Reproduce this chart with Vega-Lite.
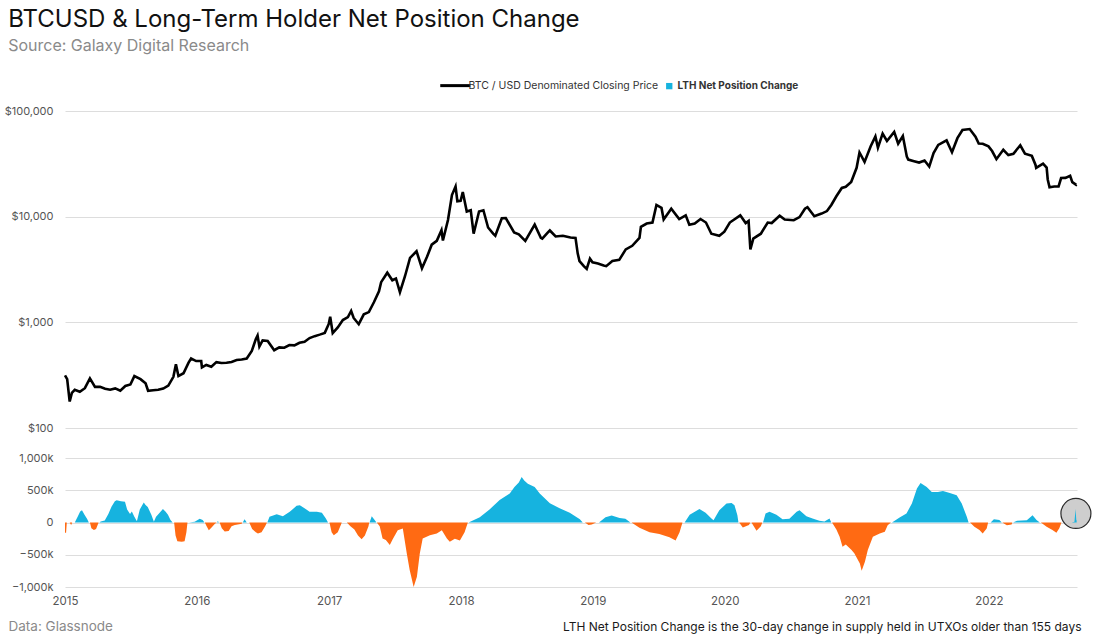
{
"$schema": "https://vega.github.io/schema/vega-lite/v6.json",
"padding": {"left": 4, "top": 8, "right": 10, "bottom": 5},
"background": "white",
"title": {"text": "BTCUSD & Long-Term Holder Net Position Change", "subtitle": "Source: Galaxy Digital Research", "anchor": "start", "frame": "bounds", "fontSize": 24, "fontWeight": "normal", "font": "Inter", "color": "#111111", "subtitleFontSize": 16, "subtitleColor": "#8a8a8a", "subtitleFont": "Inter", "subtitlePadding": 6, "offset": 26, "dx": 4},
"config": {"view": {"stroke": null}, "font": "Inter", "axis": {"labelFont": "Inter", "labelFontSize": 11, "labelColor": "#555555", "gridColor": "#dddddd", "ticks": false, "domain": false}},
"spacing": 19,
"resolve": {"scale": {"color": "independent"}, "legend": {"color": "independent"}},
"datasets": {
"price": [
{"date":"2015-01-01","price":315},{"date":"2015-01-07","price":290},{"date":"2015-01-14","price":178},{"date":"2015-01-20","price":215},{"date":"2015-01-28","price":230},{"date":"2015-02-11","price":220},{"date":"2015-02-25","price":238},{"date":"2015-03-11","price":295},{"date":"2015-03-25","price":245},{"date":"2015-04-08","price":245},{"date":"2015-04-22","price":235},{"date":"2015-05-06","price":230},{"date":"2015-05-20","price":237},{"date":"2015-06-03","price":225},{"date":"2015-06-17","price":250},{"date":"2015-07-01","price":258},{"date":"2015-07-12","price":310},{"date":"2015-07-29","price":290},{"date":"2015-08-12","price":265},{"date":"2015-08-19","price":225},{"date":"2015-09-02","price":228},{"date":"2015-09-16","price":230},{"date":"2015-09-30","price":236},{"date":"2015-10-14","price":252},{"date":"2015-10-28","price":305},{"date":"2015-11-04","price":400},{"date":"2015-11-11","price":310},{"date":"2015-11-25","price":330},{"date":"2015-12-09","price":415},{"date":"2015-12-16","price":455},{"date":"2015-12-30","price":430},
{"date":"2016-01-13","price":430},{"date":"2016-01-15","price":375},{"date":"2016-01-27","price":395},{"date":"2016-02-10","price":380},{"date":"2016-02-24","price":420},{"date":"2016-03-09","price":412},{"date":"2016-03-23","price":415},{"date":"2016-04-06","price":422},{"date":"2016-04-20","price":440},{"date":"2016-05-04","price":445},{"date":"2016-05-18","price":455},{"date":"2016-06-01","price":535},{"date":"2016-06-12","price":690},{"date":"2016-06-17","price":750},{"date":"2016-06-22","price":590},{"date":"2016-07-01","price":675},{"date":"2016-07-15","price":665},{"date":"2016-08-02","price":545},{"date":"2016-08-16","price":580},{"date":"2016-08-30","price":575},{"date":"2016-09-13","price":610},{"date":"2016-09-27","price":605},{"date":"2016-10-11","price":640},{"date":"2016-10-25","price":655},{"date":"2016-11-08","price":710},{"date":"2016-11-22","price":740},{"date":"2016-12-06","price":765},{"date":"2016-12-20","price":795},{"date":"2016-12-31","price":965},
{"date":"2017-01-04","price":1130},{"date":"2017-01-11","price":790},{"date":"2017-01-25","price":895},{"date":"2017-02-08","price":1050},{"date":"2017-02-22","price":1120},{"date":"2017-03-03","price":1280},{"date":"2017-03-10","price":1100},{"date":"2017-03-24","price":960},{"date":"2017-04-07","price":1190},{"date":"2017-04-21","price":1250},{"date":"2017-05-05","price":1550},{"date":"2017-05-19","price":1970},{"date":"2017-05-25","price":2400},{"date":"2017-06-11","price":2950},{"date":"2017-06-25","price":2500},{"date":"2017-07-05","price":2600},{"date":"2017-07-16","price":1930},{"date":"2017-07-30","price":2730},{"date":"2017-08-13","price":4070},{"date":"2017-08-31","price":4700},{"date":"2017-09-15","price":3250},{"date":"2017-09-29","price":4170},{"date":"2017-10-12","price":5430},{"date":"2017-10-26","price":5900},{"date":"2017-11-08","price":7450},{"date":"2017-11-12","price":5950},{"date":"2017-11-26","price":9300},{"date":"2017-12-07","price":16000},{"date":"2017-12-17","price":19300},{"date":"2017-12-22","price":14000},{"date":"2017-12-31","price":14100},
{"date":"2018-01-06","price":17100},{"date":"2018-01-17","price":11200},{"date":"2018-01-28","price":11500},{"date":"2018-02-05","price":6900},{"date":"2018-02-20","price":11200},{"date":"2018-03-04","price":11500},{"date":"2018-03-17","price":7900},{"date":"2018-03-31","price":6900},{"date":"2018-04-06","price":6600},{"date":"2018-04-24","price":9650},{"date":"2018-05-05","price":9700},{"date":"2018-05-28","price":7100},{"date":"2018-06-10","price":6800},{"date":"2018-06-28","price":5900},{"date":"2018-07-24","price":8400},{"date":"2018-08-10","price":6300},{"date":"2018-08-14","price":6200},{"date":"2018-08-29","price":7050},{"date":"2018-09-04","price":7400},{"date":"2018-09-20","price":6500},{"date":"2018-10-10","price":6600},{"date":"2018-10-31","price":6350},{"date":"2018-11-14","price":6300},{"date":"2018-11-20","price":4500},{"date":"2018-11-25","price":3800},{"date":"2018-12-07","price":3400},{"date":"2018-12-15","price":3200},{"date":"2018-12-24","price":4000},{"date":"2018-12-31","price":3700},
{"date":"2019-01-15","price":3600},{"date":"2019-01-31","price":3450},{"date":"2019-02-07","price":3400},{"date":"2019-02-24","price":3800},{"date":"2019-03-15","price":3900},{"date":"2019-04-02","price":4900},{"date":"2019-04-20","price":5300},{"date":"2019-05-10","price":6300},{"date":"2019-05-14","price":8000},{"date":"2019-05-30","price":8600},{"date":"2019-06-15","price":8800},{"date":"2019-06-26","price":12900},{"date":"2019-07-10","price":12100},{"date":"2019-07-16","price":9400},{"date":"2019-08-06","price":11900},{"date":"2019-08-28","price":9500},{"date":"2019-09-15","price":10300},{"date":"2019-09-25","price":8400},{"date":"2019-10-10","price":8600},{"date":"2019-10-26","price":9500},{"date":"2019-11-10","price":8800},{"date":"2019-11-25","price":6900},{"date":"2019-12-17","price":6600},{"date":"2019-12-31","price":7200},
{"date":"2020-01-15","price":8800},{"date":"2020-02-13","price":10300},{"date":"2020-02-28","price":8700},{"date":"2020-03-07","price":9100},{"date":"2020-03-12","price":4900},{"date":"2020-03-20","price":6200},{"date":"2020-04-10","price":6900},{"date":"2020-04-29","price":8800},{"date":"2020-05-10","price":8700},{"date":"2020-06-01","price":10200},{"date":"2020-06-15","price":9400},{"date":"2020-07-10","price":9250},{"date":"2020-07-26","price":9900},{"date":"2020-08-10","price":11900},{"date":"2020-08-17","price":12300},{"date":"2020-09-05","price":10100},{"date":"2020-09-25","price":10700},{"date":"2020-10-10","price":11300},{"date":"2020-10-22","price":12900},{"date":"2020-11-05","price":15600},{"date":"2020-11-20","price":18700},{"date":"2020-12-01","price":19200},{"date":"2020-12-16","price":21300},{"date":"2020-12-31","price":29000},
{"date":"2021-01-08","price":40500},{"date":"2021-01-22","price":33000},{"date":"2021-02-08","price":46400},{"date":"2021-02-21","price":57500},{"date":"2021-02-28","price":45000},{"date":"2021-03-13","price":61200},{"date":"2021-03-25","price":52000},{"date":"2021-04-14","price":63500},{"date":"2021-04-25","price":49000},{"date":"2021-05-08","price":58000},{"date":"2021-05-19","price":37000},{"date":"2021-05-23","price":34700},{"date":"2021-06-08","price":33500},{"date":"2021-06-22","price":32500},{"date":"2021-07-07","price":34000},{"date":"2021-07-20","price":29800},{"date":"2021-08-01","price":40000},{"date":"2021-08-14","price":47800},{"date":"2021-09-06","price":52700},{"date":"2021-09-21","price":40700},{"date":"2021-10-06","price":55300},{"date":"2021-10-20","price":66000},{"date":"2021-11-09","price":67500},{"date":"2021-11-25","price":57000},{"date":"2021-12-04","price":49300},{"date":"2021-12-15","price":48900},{"date":"2021-12-31","price":46300},
{"date":"2022-01-10","price":41800},{"date":"2022-01-22","price":35000},{"date":"2022-02-10","price":43000},{"date":"2022-02-24","price":38300},{"date":"2022-03-10","price":39400},{"date":"2022-03-29","price":47400},{"date":"2022-04-11","price":39500},{"date":"2022-04-30","price":37600},{"date":"2022-05-10","price":31000},{"date":"2022-05-12","price":28900},{"date":"2022-05-31","price":31800},{"date":"2022-06-10","price":29100},{"date":"2022-06-13","price":22500},{"date":"2022-06-18","price":19000},{"date":"2022-07-01","price":19300},{"date":"2022-07-13","price":19300},{"date":"2022-07-20","price":23200},{"date":"2022-08-01","price":23300},{"date":"2022-08-14","price":24400},{"date":"2022-08-20","price":21200},{"date":"2022-08-31","price":20000},{"date":"2022-09-01","price":20100}
],
"lth": [
{"date":"2015-01-01","lth":-160,"seg":1,"sign":"neg"},{"date":"2015-01-04","lth":-160,"seg":1,"sign":"neg"},{"date":"2015-01-06","lth":0,"seg":1,"sign":"neg"},
{"date":"2015-01-14","lth":0,"seg":2,"sign":"neg"},{"date":"2015-01-18","lth":-40,"seg":2,"sign":"neg"},{"date":"2015-01-21","lth":0,"seg":2,"sign":"neg"},
{"date":"2015-01-28","lth":0,"seg":3,"sign":"pos"},{"date":"2015-02-05","lth":90,"seg":3,"sign":"pos"},{"date":"2015-02-12","lth":170,"seg":3,"sign":"pos"},{"date":"2015-02-17","lth":190,"seg":3,"sign":"pos"},{"date":"2015-02-24","lth":120,"seg":3,"sign":"pos"},{"date":"2015-03-03","lth":60,"seg":3,"sign":"pos"},{"date":"2015-03-08","lth":0,"seg":3,"sign":"pos"},
{"date":"2015-03-11","lth":0,"seg":4,"sign":"neg"},{"date":"2015-03-15","lth":-90,"seg":4,"sign":"neg"},{"date":"2015-03-22","lth":-115,"seg":4,"sign":"neg"},{"date":"2015-03-28","lth":-100,"seg":4,"sign":"neg"},{"date":"2015-04-04","lth":0,"seg":4,"sign":"neg"},
{"date":"2015-04-06","lth":0,"seg":5,"sign":"pos"},{"date":"2015-04-10","lth":15,"seg":5,"sign":"pos"},{"date":"2015-04-21","lth":30,"seg":5,"sign":"pos"},{"date":"2015-05-01","lth":130,"seg":5,"sign":"pos"},{"date":"2015-05-10","lth":250,"seg":5,"sign":"pos"},{"date":"2015-05-19","lth":330,"seg":5,"sign":"pos"},{"date":"2015-05-24","lth":345,"seg":5,"sign":"pos"},{"date":"2015-06-05","lth":330,"seg":5,"sign":"pos"},{"date":"2015-06-16","lth":320,"seg":5,"sign":"pos"},{"date":"2015-06-22","lth":200,"seg":5,"sign":"pos"},{"date":"2015-06-30","lth":130,"seg":5,"sign":"pos"},{"date":"2015-07-05","lth":170,"seg":5,"sign":"pos"},{"date":"2015-07-12","lth":90,"seg":5,"sign":"pos"},{"date":"2015-07-19","lth":20,"seg":5,"sign":"pos"},{"date":"2015-07-27","lth":200,"seg":5,"sign":"pos"},{"date":"2015-08-07","lth":310,"seg":5,"sign":"pos"},{"date":"2015-08-12","lth":270,"seg":5,"sign":"pos"},{"date":"2015-08-18","lth":240,"seg":5,"sign":"pos"},{"date":"2015-08-28","lth":120,"seg":5,"sign":"pos"},{"date":"2015-09-04","lth":10,"seg":5,"sign":"pos"},{"date":"2015-09-10","lth":90,"seg":5,"sign":"pos"},{"date":"2015-09-20","lth":150,"seg":5,"sign":"pos"},{"date":"2015-09-29","lth":210,"seg":5,"sign":"pos"},{"date":"2015-10-06","lth":170,"seg":5,"sign":"pos"},{"date":"2015-10-13","lth":120,"seg":5,"sign":"pos"},{"date":"2015-10-20","lth":40,"seg":5,"sign":"pos"},{"date":"2015-10-26","lth":0,"seg":5,"sign":"pos"},
{"date":"2015-10-30","lth":0,"seg":6,"sign":"neg"},{"date":"2015-11-03","lth":-200,"seg":6,"sign":"neg"},{"date":"2015-11-08","lth":-290,"seg":6,"sign":"neg"},{"date":"2015-11-20","lth":-300,"seg":6,"sign":"neg"},{"date":"2015-11-28","lth":-290,"seg":6,"sign":"neg"},{"date":"2015-12-03","lth":-150,"seg":6,"sign":"neg"},{"date":"2015-12-06","lth":0,"seg":6,"sign":"neg"},
{"date":"2015-12-10","lth":0,"seg":7,"sign":"pos"},{"date":"2015-12-26","lth":10,"seg":7,"sign":"pos"},{"date":"2016-01-03","lth":40,"seg":7,"sign":"pos"},{"date":"2016-01-09","lth":60,"seg":7,"sign":"pos"},{"date":"2016-01-17","lth":40,"seg":7,"sign":"pos"},{"date":"2016-01-22","lth":0,"seg":7,"sign":"pos"},
{"date":"2016-01-23","lth":0,"seg":8,"sign":"neg"},{"date":"2016-01-28","lth":-60,"seg":8,"sign":"neg"},{"date":"2016-02-03","lth":-120,"seg":8,"sign":"neg"},{"date":"2016-02-10","lth":-80,"seg":8,"sign":"neg"},{"date":"2016-02-20","lth":-20,"seg":8,"sign":"neg"},{"date":"2016-02-25","lth":0,"seg":8,"sign":"neg"},
{"date":"2016-02-26","lth":0,"seg":9,"sign":"pos"},{"date":"2016-02-28","lth":25,"seg":9,"sign":"pos"},{"date":"2016-03-02","lth":0,"seg":9,"sign":"pos"},
{"date":"2016-03-04","lth":0,"seg":10,"sign":"neg"},{"date":"2016-03-10","lth":-90,"seg":10,"sign":"neg"},{"date":"2016-03-18","lth":-140,"seg":10,"sign":"neg"},{"date":"2016-03-29","lth":-130,"seg":10,"sign":"neg"},{"date":"2016-04-06","lth":-60,"seg":10,"sign":"neg"},{"date":"2016-04-15","lth":-40,"seg":10,"sign":"neg"},{"date":"2016-04-23","lth":-30,"seg":10,"sign":"neg"},{"date":"2016-05-04","lth":-20,"seg":10,"sign":"neg"},{"date":"2016-05-06","lth":0,"seg":10,"sign":"neg"},
{"date":"2016-05-07","lth":0,"seg":11,"sign":"pos"},{"date":"2016-05-12","lth":50,"seg":11,"sign":"pos"},{"date":"2016-05-18","lth":0,"seg":11,"sign":"pos"},
{"date":"2016-05-25","lth":0,"seg":12,"sign":"neg"},{"date":"2016-06-02","lth":-100,"seg":12,"sign":"neg"},{"date":"2016-06-12","lth":-150,"seg":12,"sign":"neg"},{"date":"2016-06-18","lth":-170,"seg":12,"sign":"neg"},{"date":"2016-06-28","lth":-150,"seg":12,"sign":"neg"},{"date":"2016-07-08","lth":-60,"seg":12,"sign":"neg"},{"date":"2016-07-13","lth":0,"seg":12,"sign":"neg"},
{"date":"2016-07-14","lth":0,"seg":13,"sign":"pos"},{"date":"2016-07-20","lth":90,"seg":13,"sign":"pos"},{"date":"2016-08-09","lth":129,"seg":13,"sign":"pos"},{"date":"2016-08-26","lth":98,"seg":13,"sign":"pos"},{"date":"2016-09-14","lth":165,"seg":13,"sign":"pos"},{"date":"2016-10-03","lth":258,"seg":13,"sign":"pos"},{"date":"2016-10-12","lth":268,"seg":13,"sign":"pos"},{"date":"2016-10-26","lth":216,"seg":13,"sign":"pos"},{"date":"2016-11-08","lth":165,"seg":13,"sign":"pos"},{"date":"2016-11-28","lth":165,"seg":13,"sign":"pos"},{"date":"2016-12-12","lth":150,"seg":13,"sign":"pos"},{"date":"2016-12-23","lth":62,"seg":13,"sign":"pos"},{"date":"2016-12-29","lth":0,"seg":13,"sign":"pos"},
{"date":"2017-01-02","lth":0,"seg":14,"sign":"neg"},{"date":"2017-01-08","lth":-150,"seg":14,"sign":"neg"},{"date":"2017-01-14","lth":-196,"seg":14,"sign":"neg"},{"date":"2017-01-25","lth":-150,"seg":14,"sign":"neg"},{"date":"2017-02-03","lth":-30,"seg":14,"sign":"neg"},{"date":"2017-02-05","lth":0,"seg":14,"sign":"neg"},
{"date":"2017-02-19","lth":0,"seg":15,"sign":"neg"},{"date":"2017-03-01","lth":-60,"seg":15,"sign":"neg"},{"date":"2017-03-12","lth":-110,"seg":15,"sign":"neg"},{"date":"2017-03-22","lth":-200,"seg":15,"sign":"neg"},{"date":"2017-04-01","lth":-258,"seg":15,"sign":"neg"},{"date":"2017-04-10","lth":-200,"seg":15,"sign":"neg"},{"date":"2017-04-20","lth":-60,"seg":15,"sign":"neg"},{"date":"2017-04-22","lth":0,"seg":15,"sign":"neg"},
{"date":"2017-04-23","lth":0,"seg":16,"sign":"pos"},{"date":"2017-04-29","lth":98,"seg":16,"sign":"pos"},{"date":"2017-05-07","lth":40,"seg":16,"sign":"pos"},{"date":"2017-05-12","lth":0,"seg":16,"sign":"pos"},
{"date":"2017-05-13","lth":0,"seg":17,"sign":"neg"},{"date":"2017-05-21","lth":-60,"seg":17,"sign":"neg"},{"date":"2017-05-29","lth":-247,"seg":17,"sign":"neg"},{"date":"2017-06-07","lth":-270,"seg":17,"sign":"neg"},{"date":"2017-06-18","lth":-350,"seg":17,"sign":"neg"},{"date":"2017-06-26","lth":-260,"seg":17,"sign":"neg"},{"date":"2017-07-10","lth":-120,"seg":17,"sign":"neg"},{"date":"2017-07-24","lth":-93,"seg":17,"sign":"neg"},{"date":"2017-08-04","lth":-480,"seg":17,"sign":"neg"},{"date":"2017-08-12","lth":-737,"seg":17,"sign":"neg"},{"date":"2017-08-23","lth":-1000,"seg":17,"sign":"neg"},{"date":"2017-09-01","lth":-840,"seg":17,"sign":"neg"},{"date":"2017-09-09","lth":-480,"seg":17,"sign":"neg"},{"date":"2017-09-17","lth":-247,"seg":17,"sign":"neg"},{"date":"2017-10-07","lth":-196,"seg":17,"sign":"neg"},{"date":"2017-10-26","lth":-170,"seg":17,"sign":"neg"},{"date":"2017-11-09","lth":-120,"seg":17,"sign":"neg"},{"date":"2017-11-23","lth":-247,"seg":17,"sign":"neg"},{"date":"2017-12-01","lth":-300,"seg":17,"sign":"neg"},{"date":"2017-12-15","lth":-250,"seg":17,"sign":"neg"},{"date":"2017-12-29","lth":-280,"seg":17,"sign":"neg"},{"date":"2018-01-11","lth":-150,"seg":17,"sign":"neg"},{"date":"2018-01-20","lth":0,"seg":17,"sign":"neg"},
{"date":"2018-01-22","lth":0,"seg":18,"sign":"pos"},{"date":"2018-02-22","lth":80,"seg":18,"sign":"pos"},{"date":"2018-03-21","lth":200,"seg":18,"sign":"pos"},{"date":"2018-04-18","lth":350,"seg":18,"sign":"pos"},{"date":"2018-05-16","lth":450,"seg":18,"sign":"pos"},{"date":"2018-05-29","lth":550,"seg":18,"sign":"pos"},{"date":"2018-06-10","lth":620,"seg":18,"sign":"pos"},{"date":"2018-06-18","lth":705,"seg":18,"sign":"pos"},{"date":"2018-06-25","lth":650,"seg":18,"sign":"pos"},{"date":"2018-07-05","lth":600,"seg":18,"sign":"pos"},{"date":"2018-07-24","lth":550,"seg":18,"sign":"pos"},{"date":"2018-08-07","lth":450,"seg":18,"sign":"pos"},{"date":"2018-09-04","lth":300,"seg":18,"sign":"pos"},{"date":"2018-10-01","lth":220,"seg":18,"sign":"pos"},{"date":"2018-10-29","lth":150,"seg":18,"sign":"pos"},{"date":"2018-11-26","lth":50,"seg":18,"sign":"pos"},{"date":"2018-12-04","lth":0,"seg":18,"sign":"pos"},
{"date":"2018-12-10","lth":0,"seg":19,"sign":"neg"},{"date":"2018-12-20","lth":-40,"seg":19,"sign":"neg"},{"date":"2018-12-29","lth":-30,"seg":19,"sign":"neg"},{"date":"2019-01-10","lth":0,"seg":19,"sign":"neg"},
{"date":"2019-01-18","lth":0,"seg":20,"sign":"pos"},{"date":"2019-02-05","lth":80,"seg":20,"sign":"pos"},{"date":"2019-02-22","lth":110,"seg":20,"sign":"pos"},{"date":"2019-03-16","lth":70,"seg":20,"sign":"pos"},{"date":"2019-04-01","lth":60,"seg":20,"sign":"pos"},{"date":"2019-04-15","lth":0,"seg":20,"sign":"pos"},
{"date":"2019-04-18","lth":0,"seg":21,"sign":"neg"},{"date":"2019-05-10","lth":-80,"seg":21,"sign":"neg"},{"date":"2019-06-07","lth":-150,"seg":21,"sign":"neg"},{"date":"2019-07-04","lth":-180,"seg":21,"sign":"neg"},{"date":"2019-08-01","lth":-230,"seg":21,"sign":"neg"},{"date":"2019-08-18","lth":-280,"seg":21,"sign":"neg"},{"date":"2019-08-29","lth":-150,"seg":21,"sign":"neg"},{"date":"2019-09-06","lth":0,"seg":21,"sign":"neg"},
{"date":"2019-09-12","lth":0,"seg":22,"sign":"pos"},{"date":"2019-09-26","lth":120,"seg":22,"sign":"pos"},{"date":"2019-10-23","lth":210,"seg":22,"sign":"pos"},{"date":"2019-11-09","lth":150,"seg":22,"sign":"pos"},{"date":"2019-11-26","lth":60,"seg":22,"sign":"pos"},{"date":"2019-12-01","lth":35,"seg":22,"sign":"pos"},{"date":"2019-12-17","lth":190,"seg":22,"sign":"pos"},{"date":"2020-01-06","lth":294,"seg":22,"sign":"pos"},{"date":"2020-01-20","lth":304,"seg":22,"sign":"pos"},{"date":"2020-01-28","lth":268,"seg":22,"sign":"pos"},{"date":"2020-02-05","lth":113,"seg":22,"sign":"pos"},{"date":"2020-02-08","lth":0,"seg":22,"sign":"pos"},
{"date":"2020-02-10","lth":0,"seg":23,"sign":"neg"},{"date":"2020-02-20","lth":-77,"seg":23,"sign":"neg"},{"date":"2020-03-08","lth":-40,"seg":23,"sign":"neg"},{"date":"2020-03-12","lth":0,"seg":23,"sign":"neg"},{"date":"2020-03-15","lth":0,"seg":23,"sign":"neg"},{"date":"2020-03-29","lth":-129,"seg":23,"sign":"neg"},{"date":"2020-04-10","lth":-60,"seg":23,"sign":"neg"},{"date":"2020-04-14","lth":0,"seg":23,"sign":"neg"},
{"date":"2020-04-16","lth":0,"seg":24,"sign":"pos"},{"date":"2020-04-23","lth":140,"seg":24,"sign":"pos"},{"date":"2020-05-04","lth":165,"seg":24,"sign":"pos"},{"date":"2020-05-23","lth":120,"seg":24,"sign":"pos"},{"date":"2020-06-09","lth":52,"seg":24,"sign":"pos"},{"date":"2020-06-28","lth":60,"seg":24,"sign":"pos"},{"date":"2020-07-18","lth":165,"seg":24,"sign":"pos"},{"date":"2020-07-26","lth":190,"seg":24,"sign":"pos"},{"date":"2020-08-14","lth":98,"seg":24,"sign":"pos"},{"date":"2020-08-31","lth":62,"seg":24,"sign":"pos"},{"date":"2020-09-19","lth":26,"seg":24,"sign":"pos"},{"date":"2020-10-03","lth":15,"seg":24,"sign":"pos"},{"date":"2020-10-17","lth":62,"seg":24,"sign":"pos"},{"date":"2020-10-22","lth":0,"seg":24,"sign":"pos"},
{"date":"2020-10-24","lth":0,"seg":25,"sign":"neg"},{"date":"2020-11-05","lth":-108,"seg":25,"sign":"neg"},{"date":"2020-11-14","lth":-222,"seg":25,"sign":"neg"},{"date":"2020-11-22","lth":-376,"seg":25,"sign":"neg"},{"date":"2020-12-01","lth":-340,"seg":25,"sign":"neg"},{"date":"2020-12-17","lth":-428,"seg":25,"sign":"neg"},{"date":"2020-12-25","lth":-480,"seg":25,"sign":"neg"},{"date":"2021-01-09","lth":-634,"seg":25,"sign":"neg"},{"date":"2021-01-14","lth":-747,"seg":25,"sign":"neg"},{"date":"2021-01-23","lth":-608,"seg":25,"sign":"neg"},{"date":"2021-01-31","lth":-428,"seg":25,"sign":"neg"},{"date":"2021-02-14","lth":-222,"seg":25,"sign":"neg"},{"date":"2021-03-05","lth":-170,"seg":25,"sign":"neg"},{"date":"2021-03-19","lth":-144,"seg":25,"sign":"neg"},{"date":"2021-03-27","lth":-41,"seg":25,"sign":"neg"},{"date":"2021-04-05","lth":0,"seg":25,"sign":"neg"},
{"date":"2021-04-08","lth":0,"seg":26,"sign":"pos"},{"date":"2021-04-29","lth":77,"seg":26,"sign":"pos"},{"date":"2021-05-18","lth":140,"seg":26,"sign":"pos"},{"date":"2021-06-02","lth":294,"seg":26,"sign":"pos"},{"date":"2021-06-16","lth":526,"seg":26,"sign":"pos"},{"date":"2021-06-26","lth":613,"seg":26,"sign":"pos"},{"date":"2021-07-13","lth":552,"seg":26,"sign":"pos"},{"date":"2021-07-27","lth":474,"seg":26,"sign":"pos"},{"date":"2021-08-13","lth":474,"seg":26,"sign":"pos"},{"date":"2021-08-27","lth":490,"seg":26,"sign":"pos"},{"date":"2021-09-15","lth":459,"seg":26,"sign":"pos"},{"date":"2021-10-04","lth":423,"seg":26,"sign":"pos"},{"date":"2021-10-18","lth":294,"seg":26,"sign":"pos"},{"date":"2021-11-01","lth":88,"seg":26,"sign":"pos"},{"date":"2021-11-06","lth":0,"seg":26,"sign":"pos"},
{"date":"2021-11-10","lth":0,"seg":27,"sign":"neg"},{"date":"2021-11-22","lth":-67,"seg":27,"sign":"neg"},{"date":"2021-12-06","lth":-118,"seg":27,"sign":"neg"},{"date":"2021-12-15","lth":-170,"seg":27,"sign":"neg"},{"date":"2021-12-26","lth":-93,"seg":27,"sign":"neg"},{"date":"2021-12-30","lth":0,"seg":27,"sign":"neg"},
{"date":"2022-01-06","lth":0,"seg":28,"sign":"pos"},{"date":"2022-01-15","lth":52,"seg":28,"sign":"pos"},{"date":"2022-01-30","lth":40,"seg":28,"sign":"pos"},{"date":"2022-02-06","lth":0,"seg":28,"sign":"pos"},
{"date":"2022-02-07","lth":0,"seg":29,"sign":"neg"},{"date":"2022-02-20","lth":-41,"seg":29,"sign":"neg"},{"date":"2022-03-05","lth":-30,"seg":29,"sign":"neg"},{"date":"2022-03-07","lth":0,"seg":29,"sign":"neg"},
{"date":"2022-03-09","lth":0,"seg":30,"sign":"pos"},{"date":"2022-03-20","lth":26,"seg":30,"sign":"pos"},{"date":"2022-04-16","lth":36,"seg":30,"sign":"pos"},{"date":"2022-05-02","lth":113,"seg":30,"sign":"pos"},{"date":"2022-05-13","lth":40,"seg":30,"sign":"pos"},{"date":"2022-05-22","lth":0,"seg":30,"sign":"pos"},
{"date":"2022-05-25","lth":0,"seg":31,"sign":"neg"},{"date":"2022-06-10","lth":-67,"seg":31,"sign":"neg"},{"date":"2022-06-26","lth":-118,"seg":31,"sign":"neg"},{"date":"2022-07-07","lth":-160,"seg":31,"sign":"neg"},{"date":"2022-07-15","lth":-90,"seg":31,"sign":"neg"},{"date":"2022-07-21","lth":0,"seg":31,"sign":"neg"},
{"date":"2022-08-18","lth":0,"seg":32,"sign":"pos"},{"date":"2022-08-26","lth":10,"seg":32,"sign":"pos"},{"date":"2022-08-29","lth":210,"seg":32,"sign":"pos"},{"date":"2022-08-31","lth":40,"seg":32,"sign":"pos"},{"date":"2022-09-01","lth":30,"seg":32,"sign":"pos"}
],
"highlight": [{"date":"2022-08-30","lth":140}]
},
"vconcat": [
{
"width": 1012, "height": 317,
"data": {"name": "price"},
"mark": {"type": "line", "strokeWidth": 2.6, "interpolate": "linear"},
"encoding": {
"x": {"field": "date", "type": "temporal", "axis": null, "scale": {"domain": ["2015-01-01", "2022-09-02"]}},
"y": {"field": "price", "type": "quantitative", "scale": {"type": "log", "domain": [100, 100000]}, "axis": {"values": [100, 1000, 10000, 100000], "format": "$,.0f", "title": null, "grid": true, "labelPadding": 12}},
"color": {"datum": "BTC / USD Denominated Closing Price", "type": "nominal",
"scale": {"domain": ["BTC / USD Denominated Closing Price", "LTH Net Position Change"], "range": ["#000000", "#16b3df"]},
"legend": {"title": null, "orient": "none", "legendX": 385, "legendY": -31, "direction": "horizontal", "labelFontSize": 10.5, "labelColor": "#333333", "labelFont": "Inter", "labelLimit": 400, "columnPadding": 5, "symbolSize": 900, "labelOffset": 3,
"encode": {
"symbols": {"update": {
"shape": {"signal": "datum.value === 'BTC / USD Denominated Closing Price' ? 'stroke' : 'square'"},
"size": {"signal": "datum.value === 'BTC / USD Denominated Closing Price' ? 900 : 40"},
"strokeWidth": {"signal": "datum.value === 'BTC / USD Denominated Closing Price' ? 3 : 0"},
"stroke": {"signal": "datum.value === 'BTC / USD Denominated Closing Price' ? '#000000' : 'transparent'"},
"fill": {"signal": "datum.value === 'BTC / USD Denominated Closing Price' ? 'transparent' : '#16b3df'"}
}},
"labels": {"update": {
"fontWeight": {"signal": "datum.value === 'LTH Net Position Change' ? 'bold' : 'normal'"},
"fontSize": {"signal": "datum.value === 'LTH Net Position Change' ? 10 : 10.5"},
"dx": {"signal": "datum.value === 'BTC / USD Denominated Closing Price' ? 5 : 0"}
}}
}}}
}
},
{
"width": 1012, "height": 129,
"encoding": {
"x": {"field": "date", "type": "temporal", "scale": {"domain": ["2015-01-01", "2022-09-02"]},
"axis": {"format": "%Y", "tickCount": {"interval": "year", "step": 1}, "grid": false, "labelPadding": 8, "labelFontSize": 11.5, "labelFlush": false, "labelAlign": "center",
"title": "LTH Net Position Change is the 30-day change in supply held in UTXOs older than 155 days", "titleFont": "Inter", "titleFontSize": 12, "titleFontWeight": "normal", "titleColor": "#1a1a1a", "titleX": 1016, "titleY": 43, "titleAlign": "right", "titleBaseline": "alphabetic"}},
"y": {"field": "lth", "type": "quantitative", "scale": {"domain": [-1000, 1000]},
"axis": {"values": [-1000, -500, 0, 500, 1000], "labelExpr": "datum.value == 0 ? '0' : format(datum.value, ',') + 'k'", "grid": true, "labelPadding": 12, "labelOverlap": false,
"title": "Data: Glassnode", "titleAngle": 0, "titleFont": "Inter", "titleFontSize": 13.5, "titleFontWeight": "normal", "titleColor": "#8a8a8a", "titleX": -57, "titleY": 172, "titleAlign": "left", "titleBaseline": "alphabetic"}}
},
"layer": [
{
"data": {"name": "highlight"},
"mark": {"type": "point", "shape": "circle", "size": 900, "filled": true, "fill": "#c9c9c9", "fillOpacity": 0.9, "stroke": "#2a2a2a", "strokeWidth": 1.2, "strokeOpacity": 1}
},
{
"data": {"name": "lth"},
"mark": {"type": "area", "interpolate": "linear"},
"encoding": {
"color": {"field": "sign", "type": "nominal", "scale": {"domain": ["pos", "neg"], "range": ["#16b3df", "#ff6a13"]}, "legend": null},
"detail": {"field": "seg", "type": "nominal"}
}
}
]
}
]
}
